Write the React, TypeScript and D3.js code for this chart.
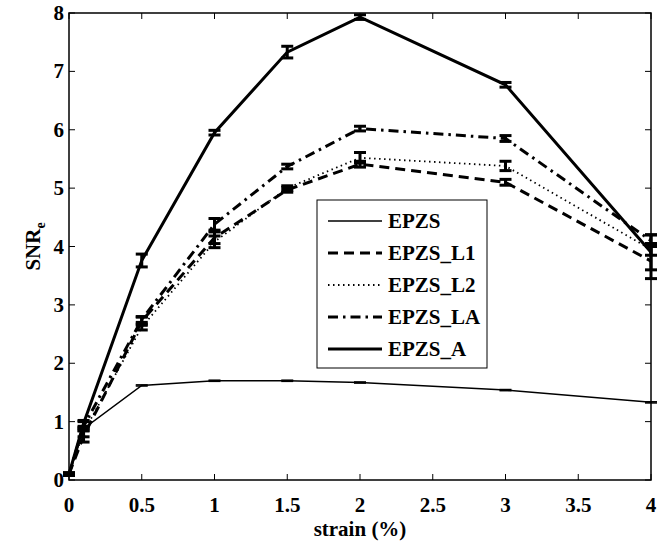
import React from "react";
import * as d3 from "d3";

const strain = [0, 0.1, 0.5, 1, 1.5, 2, 3, 4];
const seriesNames = ["EPZS", "EPZS_L1", "EPZS_L2", "EPZS_LA", "EPZS_A"];
const epzs = [0.1, 0.88, 1.62, 1.7, 1.7, 1.67, 1.54, 1.33];
const epzsErr = [0.01, 0.01, 0.01, 0.01, 0.01, 0.01, 0.01, 0.01];
const epzsL1 = [0.1, 0.75, 2.72, 4.15, 4.97, 5.41, 5.1, 3.75];
const epzsL1Err = [0.02, 0.1, 0.07, 0.1, 0.04, 0.05, 0.05, 0.3];
const epzsL2 = [0.1, 0.82, 2.62, 4.08, 5.0, 5.52, 5.38, 3.95];
const epzsL2Err = [0.02, 0.08, 0.05, 0.1, 0.04, 0.09, 0.08, 0.1];
const epzsLA = [0.1, 0.92, 2.75, 4.38, 5.37, 6.02, 5.85, 4.1];
const epzsLAErr = [0.02, 0.08, 0.05, 0.1, 0.04, 0.04, 0.05, 0.1];
const epzsA = [0.1, 0.97, 3.76, 5.95, 7.33, 7.93, 6.77, 3.9];
const epzsAErr = [0.02, 0.05, 0.11, 0.04, 0.1, 0.04, 0.04, 0.3];
const xTicks = [0, 0.5, 1, 1.5, 2, 2.5, 3, 3.5, 4];
const yTicks = [0, 1, 2, 3, 4, 5, 6, 7, 8];

const values = [epzs, epzsL1, epzsL2, epzsLA, epzsA];
const errors = [epzsErr, epzsL1Err, epzsL2Err, epzsLAErr, epzsAErr];
const styles = [
  { w: 1.5, dash: "none" },
  { w: 3, dash: "10,6" },
  { w: 1.8, dash: "1.5,3.5" },
  { w: 3, dash: "10,5,2.5,5" },
  { w: 3, dash: "none" },
];

const W = 658, H = 541;
const L = 69, R = 651, T = 13, B = 480;
const FONT = "Liberation Serif, Times New Roman, Times, serif";
const FS = 21;

export default function App() {
  const x = d3.scaleLinear().domain([0, 4]).range([L, R]);
  const y = d3.scaleLinear().domain([0, 8]).range([B, T]);
  const line = d3.line<[number, number]>().x(d => x(d[0])).y(d => y(d[1]));
  const tick = 6;
  const legX = 317, legY = 200, legW = 170, legH = 168, rowH = 32;
  return (
    <svg width={W} height={H} style={{ position: "absolute", left: 0, top: 0, background: "#fff" }}>
      <rect x={0} y={0} width={W} height={H} fill="#fff" />
      {values.map((vals, si) => {
        const st = styles[si];
        const pts = strain.map((s, i) => [s, vals[i]] as [number, number]);
        const capW = 6;
        return (
          <g key={si}>
            <path d={line(pts) || ""} fill="none" stroke="#000" strokeWidth={st.w}
              strokeDasharray={st.dash} strokeLinejoin="miter" />
            {strain.map((s, i) => {
              const e = errors[si][i];
              const cx = x(s), y1 = y(vals[i] - e), y2 = y(vals[i] + e);
              const cw = si === 0 ? 1.5 : 3;
              return (
                <g key={i} stroke="#000" strokeWidth={cw}>
                  <line x1={cx} x2={cx} y1={y1} y2={y2} />
                  <line x1={cx - capW} x2={cx + capW} y1={y1} y2={y1} />
                  <line x1={cx - capW} x2={cx + capW} y1={y2} y2={y2} />
                </g>
              );
            })}
          </g>
        );
      })}
      <rect x={L} y={T} width={R - L} height={B - T} fill="none" stroke="#000" strokeWidth={1.5} />
      {xTicks.map(t => (
        <g key={"x" + t} stroke="#000" strokeWidth={1}>
          <line x1={x(t)} x2={x(t)} y1={B} y2={B - tick} />
          <line x1={x(t)} x2={x(t)} y1={T} y2={T + tick} />
        </g>
      ))}
      {yTicks.map(t => (
        <g key={"y" + t} stroke="#000" strokeWidth={1}>
          <line x1={L} x2={L + tick} y1={y(t)} y2={y(t)} />
          <line x1={R} x2={R - tick} y1={y(t)} y2={y(t)} />
        </g>
      ))}
      {xTicks.map(t => (
        <text key={"xl" + t} x={x(t)} y={512} textAnchor="middle" fontFamily={FONT}
          fontWeight="bold" fontSize={FS}>{String(t)}</text>
      ))}
      {yTicks.map(t => (
        <text key={"yl" + t} x={64} y={y(t) + 7} textAnchor="end" fontFamily={FONT}
          fontWeight="bold" fontSize={FS}>{String(t)}</text>
      ))}
      <text x={(L + R) / 2} y={536} textAnchor="middle" fontFamily={FONT} fontWeight="bold" fontSize={FS}>strain (%)</text>
      <text transform={`translate(40,${(T + B) / 2}) rotate(-90)`} textAnchor="middle" fontFamily={FONT}
        fontWeight="bold" fontSize={FS}>SNR<tspan fontSize={14} dy={5}>e</tspan></text>
      <rect x={legX} y={legY} width={legW} height={legH} fill="#fff" stroke="#000" strokeWidth={1} />
      {seriesNames.map((n, i) => {
        const cy = legY + 21 + i * rowH;
        const st = styles[i];
        return (
          <g key={n}>
            <line x1={328} x2={382} y1={cy} y2={cy} stroke="#000" strokeWidth={st.w} strokeDasharray={st.dash} />
            <text x={388} y={cy + 7} fontFamily={FONT} fontWeight="bold" fontSize={FS}>{n}</text>
          </g>
        );
      })}
    </svg>
  );
}
